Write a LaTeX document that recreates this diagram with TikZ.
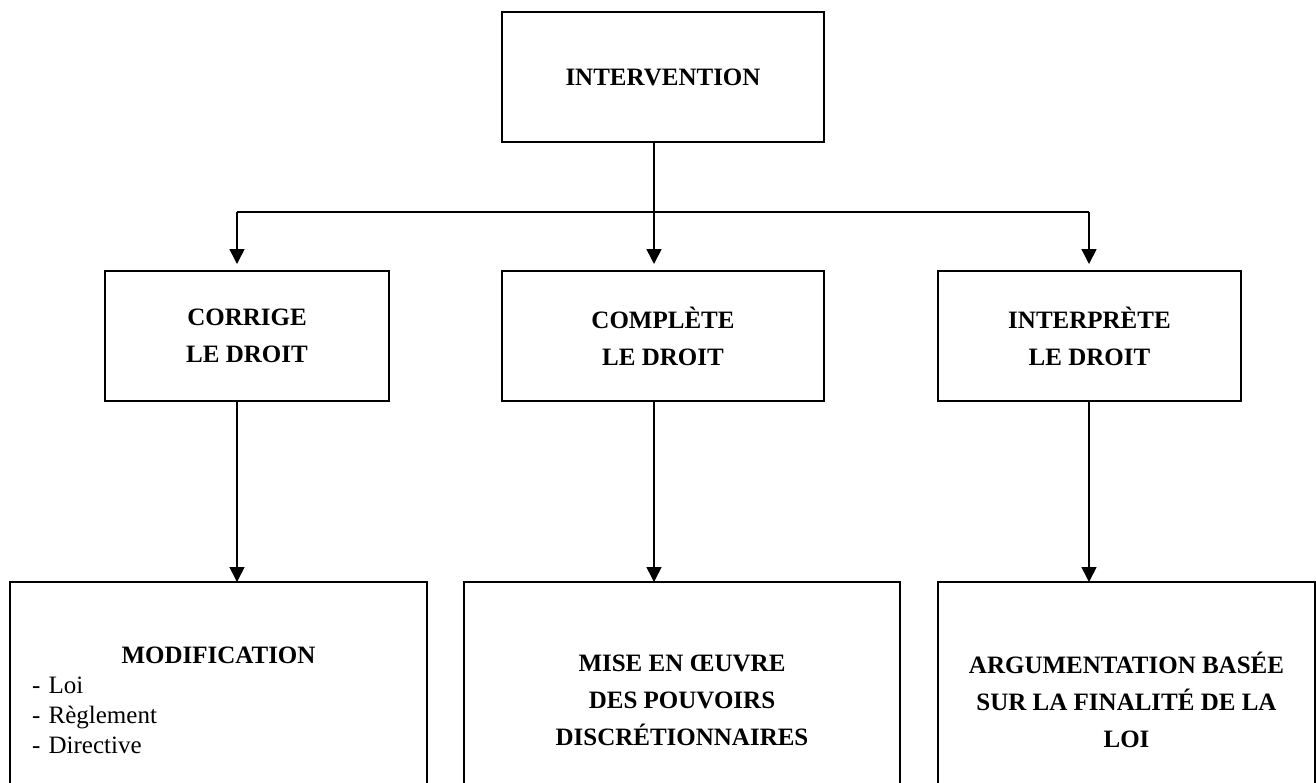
\documentclass[tikz,border=0pt]{standalone}
\usepackage{fontspec}
\setmainfont{Liberation Serif}
\usetikzlibrary{arrows.meta}

\tikzset{
  box/.style={draw, line width=1.6pt, inner sep=0pt, outer sep=0pt, align=center,
    font=\fontsize{25}{37}\selectfont\bfseries},
  link/.style={line width=1.6pt},
  arr/.style={link, -{Triangle[width=15pt,length=15pt]}}
}

\begin{document}
\begin{tikzpicture}[x=1pt,y=-1pt]
            \useasboundingbox (0,0) rectangle (1316,782);

            % Root node
            \node[box, minimum width=322pt, minimum height=130pt] (interv) at (663,77) {INTERVENTION};

            % Branch points
            \coordinate (jl) at (237,212);
            \coordinate (jc) at (654,212);
            \coordinate (jr) at (1089,212);
            \draw[link] (interv.south -| jc) -- (jc);
            \draw[link] (jl) -- (jr);

            % Second stage nodes
            \node[box, minimum width=284pt, minimum height=130pt] (corrige) at (247,336) {CORRIGE\\LE DROIT};
            \node[box, minimum width=322pt, minimum height=130pt] (complete) at (663,336) {COMPLÈTE\\LE DROIT};
            \node[box, minimum width=303pt, minimum height=130pt] (interp) at (1089.5,336) {INTERPRÈTE\\LE DROIT};
            \draw[arr, shorten >=7pt] (jl) -- (corrige.north -| jl);
            \draw[arr, shorten >=7pt] (jc) -- (complete.north -| jc);
            \draw[arr, shorten >=7pt] (jr) -- (interp.north -| jr);

            % Third stage nodes
            \node[box, anchor=north, minimum width=417pt, minimum height=236pt, text width=373pt, align=left,
              font=\fontsize{25}{30}\selectfont] (modif) at (218.5,582)
              {{\centering\bfseries MODIFICATION\par}- Loi\\- Règlement\\- Directive};
            \node[box, anchor=north, minimum width=436pt, minimum height=236pt] (oeuvre) at (682,582)
              {MISE EN ŒUVRE\\DES POUVOIRS\\DISCRÉTIONNAIRES};
            \node[box, anchor=north, minimum width=377pt, minimum height=236pt] (argu) at (1126.5,582)
              {ARGUMENTATION BASÉE\\SUR LA FINALITÉ DE LA\\LOI};
            \draw[arr] (corrige.south -| jl) -- (modif.north -| jl);
            \draw[arr] (complete.south -| jc) -- (oeuvre.north -| jc);
            \draw[arr] (interp.south -| jr) -- (argu.north -| jr);
\end{tikzpicture}
\end{document}
